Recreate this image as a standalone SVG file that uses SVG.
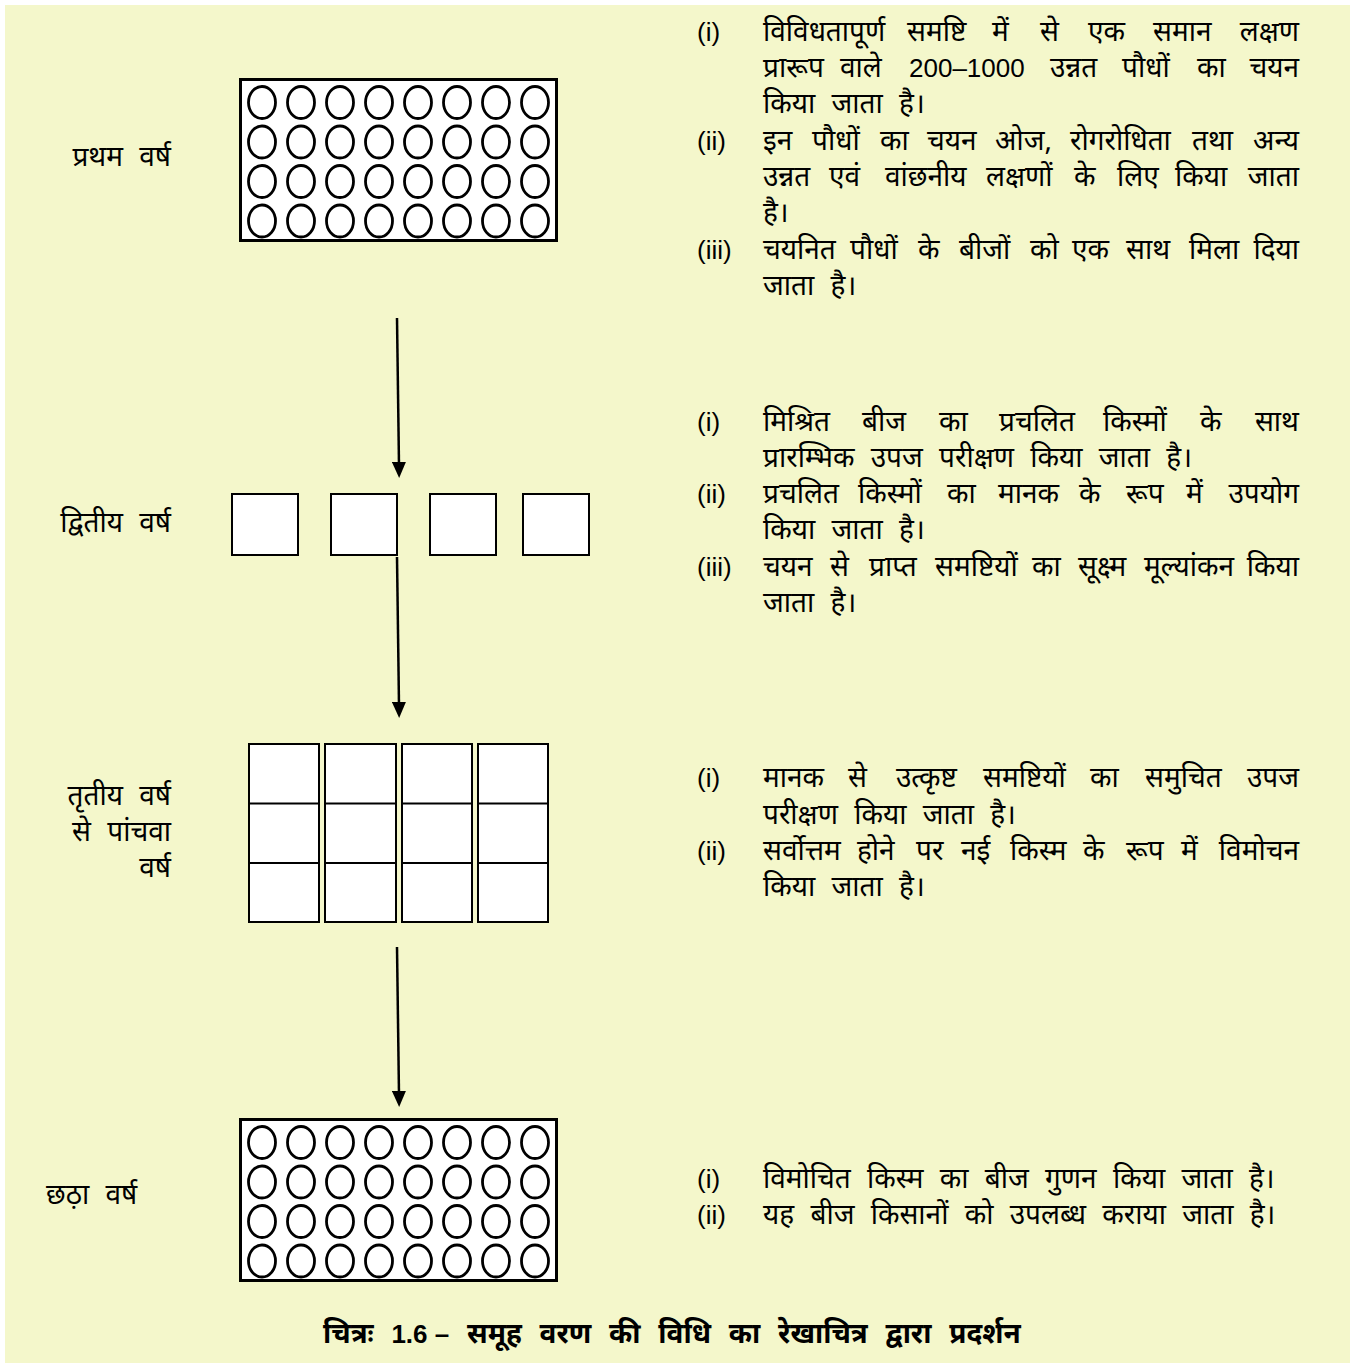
<svg xmlns="http://www.w3.org/2000/svg" xmlns:xlink="http://www.w3.org/1999/xlink" width="1354" height="1363" viewBox="0 0 1354 1363">
<style>
.bg{fill:#F4F7CB}
.box{fill:#fff;stroke:#000;stroke-width:3}
.cell{fill:#fff;stroke:#000;stroke-width:2}
.dot{fill:none;stroke:#000;stroke-width:2.8}
.conn{stroke:#000;stroke-width:2.5;fill:none}
text{font-family:"Noto Sans","Liberation Sans",sans-serif;font-size:28px;fill:#000;word-spacing:9px}
.num{font-family:"Liberation Sans",Arial,sans-serif;font-size:26px;word-spacing:0}
.lbl{text-anchor:end}
.end{text-anchor:end}
.cap{font-weight:bold;font-size:28px;word-spacing:10.5px}
</style>
<defs>
<marker id="ah" viewBox="0 0 16 14" refX="4" refY="7" markerWidth="16" markerHeight="14" markerUnits="userSpaceOnUse" orient="auto">
<path d="M0,0 L16,7 L0,14 Z" fill="#000"/>
</marker>
<g id="row">
<ellipse class="dot" cx="262" cy="0" rx="13.5" ry="16"/>
<ellipse class="dot" cx="301" cy="0" rx="13.5" ry="16"/>
<ellipse class="dot" cx="340" cy="0" rx="13.5" ry="16"/>
<ellipse class="dot" cx="379" cy="0" rx="13.5" ry="16"/>
<ellipse class="dot" cx="418" cy="0" rx="13.5" ry="16"/>
<ellipse class="dot" cx="457" cy="0" rx="13.5" ry="16"/>
<ellipse class="dot" cx="496" cy="0" rx="13.5" ry="16"/>
<ellipse class="dot" cx="535" cy="0" rx="13.5" ry="16"/>
</g>
</defs>
<rect class="bg" x="5" y="5" width="1345" height="1358"/>

<g id="connectors">
<line class="conn" x1="397" y1="318" x2="399" y2="466" marker-end="url(#ah)"/>
<line class="conn" x1="397" y1="557" x2="399" y2="706" marker-end="url(#ah)"/>
<line class="conn" x1="397" y1="947" x2="399" y2="1095" marker-end="url(#ah)"/>
</g>

<g id="year1">
<rect class="box" x="240.5" y="79.5" width="316" height="161"/>
<use xlink:href="#row" y="102.5"/>
<use xlink:href="#row" y="142"/>
<use xlink:href="#row" y="181.5"/>
<use xlink:href="#row" y="221"/>
<text class="lbl" x="171" y="166">प्रथम वर्ष</text>
</g>

<g id="year2">
<rect class="cell" x="232" y="494" width="66" height="61"/>
<rect class="cell" x="331" y="494" width="66" height="61"/>
<rect class="cell" x="430" y="494" width="66" height="61"/>
<rect class="cell" x="523" y="494" width="66" height="61"/>
<text class="lbl" x="171" y="532">द्वितीय वर्ष</text>
</g>

<g id="year3to5">
<rect class="cell" x="249" y="744" width="70" height="178"/>
<rect class="cell" x="325" y="744" width="71" height="178"/>
<rect class="cell" x="402" y="744" width="70" height="178"/>
<rect class="cell" x="478" y="744" width="70" height="178"/>
<path class="cell" d="M249,803.5H319M325,803.5H396M402,803.5H472M478,803.5H548M249,863H319M325,863H396M402,863H472M478,863H548"/>
<text class="lbl" x="171" y="805">तृतीय वर्ष</text>
<text class="lbl" x="171" y="841">से पांचवा</text>
<text class="lbl" x="171" y="877">वर्ष</text>
</g>

<g id="year6">
<rect class="box" x="240.5" y="1119.5" width="316" height="161"/>
<use xlink:href="#row" y="1142.5"/>
<use xlink:href="#row" y="1182"/>
<use xlink:href="#row" y="1221.5"/>
<use xlink:href="#row" y="1261"/>
<text x="46" y="1204">छठ़ा वर्ष</text>
</g>

<g id="notes1">
<text class="num" x="697" y="41">(i)</text>
<text x="763" y="41">विविधतापूर्ण</text><text x="907" y="41">समष्टि</text><text x="992" y="41">में</text><text x="1040" y="41">से</text><text x="1088" y="41">एक</text><text x="1153" y="41">समान</text><text class="end" x="1299" y="41">लक्षण</text>
<text x="763" y="77">प्रारूप</text><text x="840" y="77">वाले</text><text class="num" x="909" y="77">200–1000</text><text x="1050" y="77">उन्नत</text><text x="1122" y="77">पौधों</text><text x="1197" y="77">का</text><text class="end" x="1299" y="77">चयन</text>
<text x="763" y="113">किया जाता है।</text>
<text class="num" x="697" y="150">(ii)</text>
<text x="763" y="150">इन</text><text x="812" y="150">पौधों</text><text x="880" y="150">का</text><text x="927" y="150">चयन</text><text x="995" y="150">ओज,</text><text x="1070" y="150">रोगरोधिता</text><text x="1192" y="150">तथा</text><text class="end" x="1299" y="150">अन्य</text>
<text x="763" y="186">उन्नत</text><text x="829" y="186">एवं</text><text x="885" y="186">वांछनीय</text><text x="986" y="186">लक्षणों</text><text x="1074" y="186">के</text><text x="1117" y="186">लिए</text><text x="1175" y="186">किया</text><text class="end" x="1299" y="186">जाता</text>
<text x="763" y="222">है।</text>
<text class="num" x="697" y="259">(iii)</text>
<text x="763" y="259">चयनित</text><text x="850" y="259">पौधों</text><text x="918" y="259">के</text><text x="959" y="259">बीजों</text><text x="1030" y="259">को</text><text x="1072" y="259">एक</text><text x="1126" y="259">साथ</text><text x="1189" y="259">मिला</text><text class="end" x="1299" y="259">दिया</text>
<text x="763" y="295">जाता है।</text>
</g>

<g id="notes2">
<text class="num" x="697" y="431">(i)</text>
<text x="763" y="431">मिश्रित</text><text x="862" y="431">बीज</text><text x="939" y="431">का</text><text x="999" y="431">प्रचलित</text><text x="1103" y="431">किस्मों</text><text x="1200" y="431">के</text><text class="end" x="1299" y="431">साथ</text>
<text x="763" y="467">प्रारम्भिक उपज परीक्षण किया जाता है।</text>
<text class="num" x="697" y="503">(ii)</text>
<text x="763" y="503">प्रचलित</text><text x="858" y="503">किस्मों</text><text x="947" y="503">का</text><text x="998" y="503">मानक</text><text x="1079" y="503">के</text><text x="1126" y="503">रूप</text><text x="1186" y="503">में</text><text class="end" x="1299" y="503">उपयोग</text>
<text x="763" y="539">किया जाता है।</text>
<text class="num" x="697" y="576">(iii)</text>
<text x="763" y="576">चयन</text><text x="830" y="576">से</text><text x="869" y="576">प्राप्त</text><text x="935" y="576">समष्टियों</text><text x="1032" y="576">का</text><text x="1078" y="576">सूक्ष्म</text><text x="1144" y="576">मूल्यांकन</text><text class="end" x="1299" y="576">किया</text>
<text x="763" y="612">जाता है।</text>
</g>

<g id="notes3">
<text class="num" x="697" y="787">(i)</text>
<text x="763" y="787">मानक</text><text x="848" y="787">से</text><text x="896" y="787">उत्कृष्ट</text><text x="983" y="787">समष्टियों</text><text x="1090" y="787">का</text><text x="1145" y="787">समुचित</text><text class="end" x="1299" y="787">उपज</text>
<text x="763" y="824">परीक्षण किया जाता है।</text>
<text class="num" x="697" y="860">(ii)</text>
<text x="763" y="860">सर्वोत्तम</text><text x="857" y="860">होने</text><text x="916" y="860">पर</text><text x="961" y="860">नई</text><text x="1010" y="860">किस्म</text><text x="1083" y="860">के</text><text x="1126" y="860">रूप</text><text x="1181" y="860">में</text><text class="end" x="1299" y="860">विमोचन</text>
<text x="763" y="896">किया जाता है।</text>
</g>

<g id="notes6">
<text class="num" x="697" y="1188">(i)</text>
<text x="763" y="1188">विमोचित किस्म का बीज गुणन किया जाता है।</text>
<text class="num" x="697" y="1224">(ii)</text>
<text x="763" y="1224">यह बीज किसानों को उपलब्ध कराया जाता है।</text>
</g>

<g id="caption">
<text class="cap" x="323" y="1343">चित्रः <tspan class="num" font-weight="bold">1.6 –</tspan> समूह वरण की विधि का रेखाचित्र द्वारा प्रदर्शन</text>
</g>
</svg>
